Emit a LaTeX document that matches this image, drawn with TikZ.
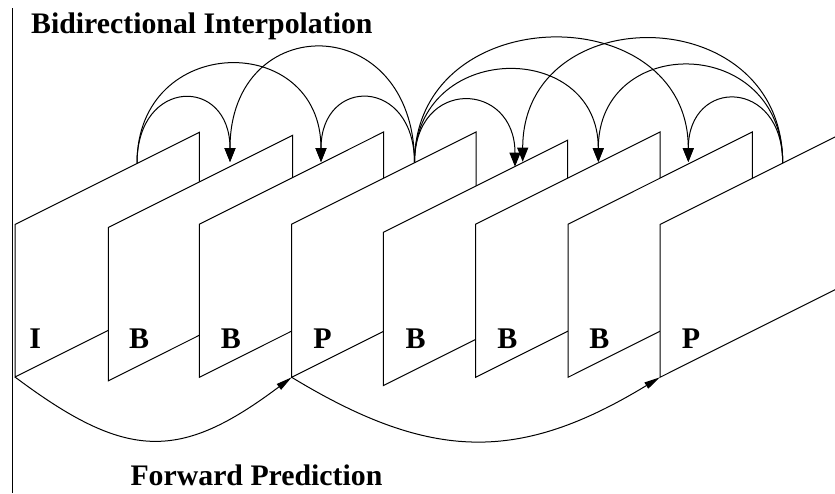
\documentclass[tikz,border=0pt]{standalone}
\usepackage{fontspec}
\setmainfont{Liberation Serif}
\usetikzlibrary{arrows.meta}

\tikzset{
  picframe/.style={draw, fill=white},
  bidir/.style={-{Triangle[length=7pt,width=5.5pt]}},
  fwd/.style={-{Triangle[length=8pt,width=3.5pt]}},
  ftype/.style={anchor=base, inner sep=0pt, font=\fontsize{15}{18}\selectfont\bfseries},
  heading/.style={anchor=base west, inner sep=0pt, font=\fontsize{14.9}{18}\selectfont\bfseries}
}

\begin{document}
\begin{tikzpicture}[x=0.5pt, y=-0.5pt, line width=0.5pt]
\clip (0,0) rectangle (835,493);
\draw (12.7,8) -- (12.7,493);

\draw[picframe] (15,377) -- (15,224.5) -- (199.3,132.3) -- (199.3,284.8) -- cycle;
\draw[picframe] (108.3,380.8) -- (108.3,227.5) -- (292.6,135.3) -- (292.6,288.6) -- cycle;
\draw[picframe] (199.3,377.3) -- (199.3,224.2) -- (383.6,132) -- (383.6,285.1) -- cycle;
\draw[picframe] (291.7,377.3) -- (291.7,224.2) -- (476,132) -- (476,285.1) -- cycle;
\draw[picframe] (383.3,385.6) -- (383.3,232.4) -- (567.6,140.2) -- (567.6,293.4) -- cycle;
\draw[picframe] (475.7,377.3) -- (475.7,224.2) -- (660,132) -- (660,285.1) -- cycle;
\draw[picframe] (568,377.3) -- (568,224.2) -- (752.3,132) -- (752.3,285.1) -- cycle;
\draw[picframe] (660,377.3) -- (660,224.5) -- (844.3,132.3) -- (844.3,285.1) -- cycle;

\coordinate (iLow) at (15,377);
\coordinate (p1Low) at (291.7,377.3);
\coordinate (p2Low) at (660,377.3);
\coordinate (iTop) at (137,163.3);
\coordinate (p1Top) at (414.5,162.9);
\coordinate (p2Top) at (782.7,163);
\coordinate (b1Tip) at (230,162);
\coordinate (b2Tip) at (321,162);
\coordinate (b3Tip) at (515,166.7);
\coordinate (b3TipR) at (522.7,161.7);
\coordinate (b4Tip) at (598.3,162);
\coordinate (b5Tip) at (688.3,162);

\draw[bidir] (iTop) .. controls +(0,-86) and +(0,-86) .. (b1Tip);
\draw[bidir] (iTop) .. controls +(0,-131) and +(0,-131) .. (b2Tip);
\draw[bidir] (p1Top) .. controls +(0,-153) and +(0,-153) .. (b1Tip);
\draw[bidir] (p1Top) .. controls +(0,-86) and +(0,-86) .. (b2Tip);
\draw[bidir] (p1Top) .. controls +(0,-86) and +(0,-86) .. (b3Tip);
\draw[bidir] (p1Top) .. controls +(0,-123) and +(0,-123) .. (b4Tip);
\draw[bidir] (p1Top) .. controls +(0,-165) and +(0,-165) .. (b5Tip);
\draw[bidir] (p2Top) .. controls +(0,-85) and +(0,-85) .. (b5Tip);
\draw[bidir] (p2Top) .. controls +(0,-129) and +(0,-129) .. (b4Tip);
\draw[bidir] (p2Top) .. controls +(0,-164) and +(0,-164) .. (b3TipR);

\draw[fwd] (iLow) .. controls +(112,84) and +(-112,84) .. (p1Low);
\draw[fwd] (p1Low) .. controls +(140,85) and +(-140,85) .. (p2Low);

\node[ftype] (iLabel) at (35.3,348.3) {I};
\node[ftype] (b1Label) at (139.2,348.3) {B};
\node[ftype] (b2Label) at (231,348.3) {B};
\node[ftype] (p1Label) at (322.5,348.3) {P};
\node[ftype] (b3Label) at (415.5,348.3) {B};
\node[ftype] (b4Label) at (507.3,348.3) {B};
\node[ftype] (b5Label) at (599.3,348.3) {B};
\node[ftype] (p2Label) at (691,348.3) {P};

\node[heading] (bidirTitle) at (30.7,33.3) {Bidirectional Interpolation};
\node[heading] (fwdTitle) at (130,485) {Forward Prediction};
\end{tikzpicture}
\end{document}
